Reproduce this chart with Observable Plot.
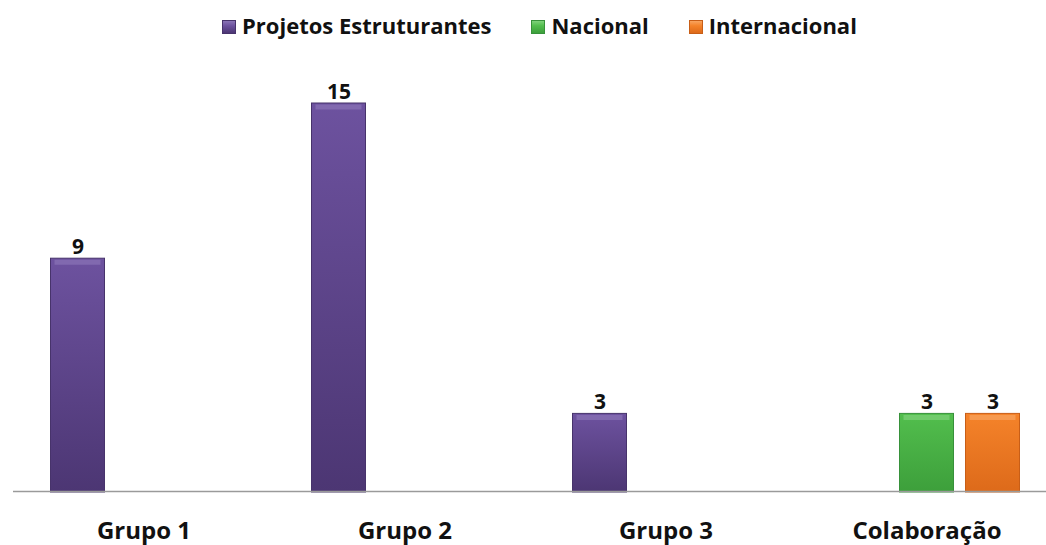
<!DOCTYPE html>
<html>
<head>
<meta charset="utf-8">
<script src="https://cdn.jsdelivr.net/npm/d3@7"></script>
<script src="https://cdn.jsdelivr.net/npm/@observablehq/plot@0.6"></script>
<style>
  html, body { margin: 0; padding: 0; background: #fff; }
  #wrap { width: 1046px; height: 545px; position: relative; font-family: 'Open Sans', sans-serif; }
  #legend { position: absolute; left: 222px; top: 10px; display: flex; column-gap: 40px; font-size: 22px; font-weight: 700; line-height: 30px; color: #111; white-space: nowrap; }
  .item { display: flex; align-items: center; }
  .sw { width: 14px; height: 14px; margin-right: 6px; margin-top: 4px; box-sizing: border-box; }
  #chart { position: absolute; left: 0; top: 54px; }
</style>
</head>
<body>
<div id="wrap">
  <div id="legend"></div>
  <div id="chart"></div>
</div>
<script>
// ---- data ----
const groups = ["Grupo 1", "Grupo 2", "Grupo 3", "Colaboração"];
const series = ["Projetos Estruturantes", "Nacional", "Internacional"];
const estruturantes = [9, 15, 3, null];
const nacional = [null, null, null, 3];
const internacional = [null, null, null, 3];

// ---- styles ----
const colorsTop = ["#6d529f", "#52be4d", "#f5832a"];
const colorsBottom = ["#4c3673", "#3d9f3b", "#dd6a1a"];
const colorsBevel = ["#8a74b6", "#7fd27b", "#f8a460"];
const colorsEdge = ["#47336b", "#37913a", "#c85e17"];

const seriesValues = [estruturantes, nacional, internacional];
const rows = [];
groups.forEach((g, gi) => {
  series.forEach((s, si) => {
    const v = seriesValues[si][gi];
    if (v != null) rows.push({group: g, series: s, value: v});
  });
});

// legend
const legend = document.getElementById("legend");
series.forEach((s, i) => {
  const it = document.createElement("div");
  it.className = "item";
  const sw = document.createElement("span");
  sw.className = "sw";
  sw.style.background = `linear-gradient(${colorsBevel[i]}, ${colorsTop[i]} 40%, ${colorsBottom[i]})`;
  sw.style.border = `1px solid ${colorsEdge[i]}`;
  const t = document.createElement("span");
  t.textContent = s;
  it.appendChild(sw);
  it.appendChild(t);
  legend.appendChild(it);
});

const gradIds = series.map((s, i) => `grad${i}`);

const svg = Plot.plot({
  width: 1046,
  height: 491,
  marginTop: 49,
  marginBottom: 54,
  marginLeft: 12.5,
  marginRight: -10.5,
  style: {fontFamily: "'Open Sans', sans-serif", color: "#111", overflow: "visible", background: "transparent"},
  fx: {domain: groups, paddingInner: 0, paddingOuter: 0},
  x: {domain: series, paddingInner: 0.182, paddingOuter: 0.568, axis: null},
  y: {domain: [0, 15], axis: null},
  color: {domain: series, range: gradIds.map(id => `url(#${id})`)},
  marks: [
    Plot.barY(rows, {fx: "group", x: "series", y: "value", fill: "series",
      stroke: d => colorsEdge[series.indexOf(d.series)], strokeWidth: 1, insetBottom: -1}),
    Plot.tickY(rows, {fx: "group", x: "series", y: "value",
      stroke: d => colorsBevel[series.indexOf(d.series)], strokeWidth: 5, dy: 3.5, inset: 4, strokeOpacity: 0.7}),
    Plot.ruleY([0], {stroke: "#9a9a9a", strokeWidth: 1.5}),
    Plot.text(rows, {fx: "group", x: "series", y: "value", text: d => String(d.value),
      lineAnchor: "bottom", dy: -5, fontSize: 21, fontWeight: "bold", fill: "#111"}),
    Plot.axisFx({anchor: "bottom", tickSize: 0, tickPadding: 30, fontSize: 24, fontWeight: "bold", label: null, fill: "#111"})
  ]
});

// gradient defs
const ns = "http://www.w3.org/2000/svg";
const defs = document.createElementNS(ns, "defs");
series.forEach((s, i) => {
  const lg = document.createElementNS(ns, "linearGradient");
  lg.setAttribute("id", gradIds[i]);
  lg.setAttribute("x1", "0"); lg.setAttribute("y1", "0");
  lg.setAttribute("x2", "0"); lg.setAttribute("y2", "1");
  [[0, colorsTop[i]], [1, colorsBottom[i]]].forEach(([o, c]) => {
    const st = document.createElementNS(ns, "stop");
    st.setAttribute("offset", o);
    st.setAttribute("stop-color", c);
    lg.appendChild(st);
  });
  defs.appendChild(lg);
});
svg.insertBefore(defs, svg.firstChild);

document.getElementById("chart").appendChild(svg);
</script>
</body>
</html>
